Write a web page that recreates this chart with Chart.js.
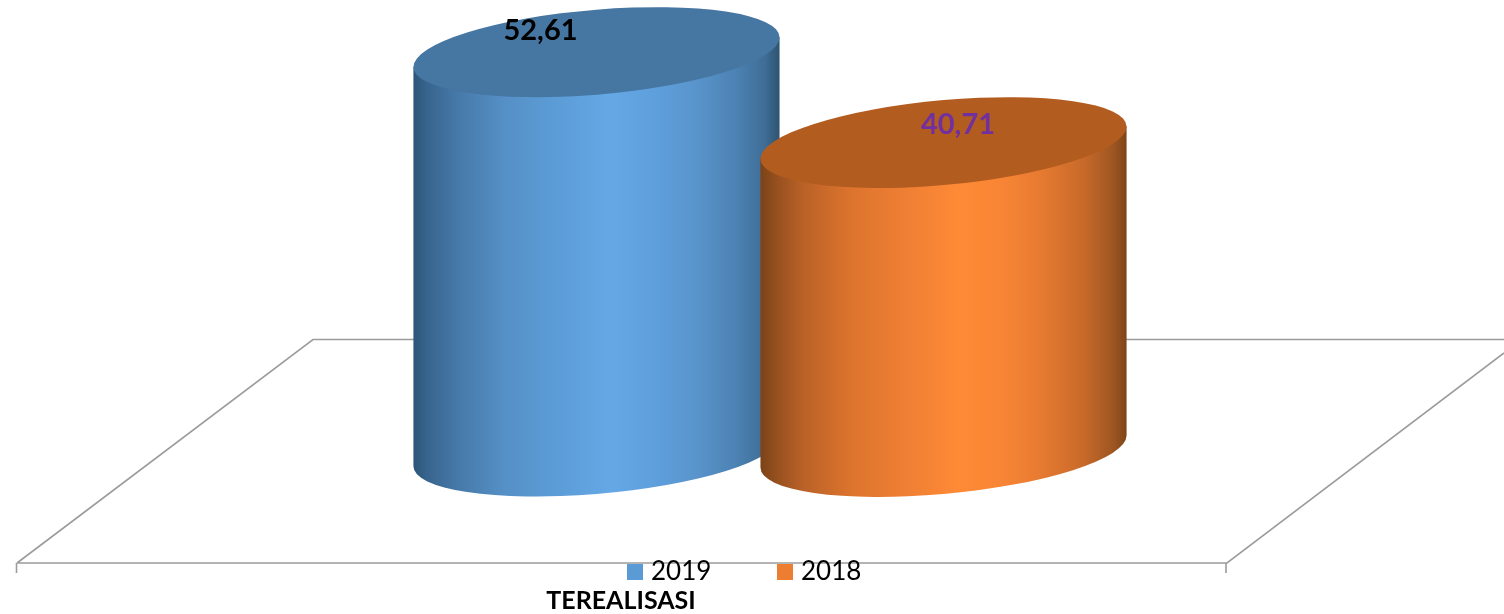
<!DOCTYPE html>
<html><head><meta charset="utf-8">
<style>html,body{margin:0;padding:0;background:#fff}#w{position:relative;width:1504px;height:614px}</style>
<script src="https://cdn.jsdelivr.net/npm/chart.js@4/dist/chart.umd.min.js"></script>
</head><body><div id="w"><canvas id="c" width="1504" height="614"></canvas></div>
<script>
const categories = ['TEREALISASI'];
const seriesNames = ['2019', '2018'];
const values2019 = [52.61];
const values2018 = [40.71];
const valueLabels = ['52,61', '40,71'];
const legendColors = ['#5B9BD5', '#ED7D31'];
const labelColors = ['#000000', '#7030A0'];
const topColors = ['#4676A2', '#B35C20'];
const bodyStops = [
  [[0,'#2C5578'],[0.04,'#38658F'],[0.12,'#4679A8'],[0.25,'#5590C6'],[0.4,'#5C9DD8'],[0.54,'#65A8E6'],[0.66,'#5E9FDC'],[0.76,'#5A96CE'],[0.88,'#4C82B4'],[0.96,'#3F6D96'],[1,'#2E5470']],
  [[0,'#7A4318'],[0.04,'#944F1E'],[0.12,'#BB6228'],[0.25,'#DD742D'],[0.4,'#EF7F34'],[0.54,'#FF8A36'],[0.66,'#F88535'],[0.76,'#E87B31'],[0.88,'#C96A2A'],[0.96,'#A05722'],[1,'#7E4518']]
];
const FONT = 'Lato, Carlito, sans-serif';

const cylinderPlugin = {
  id: 'cylinders',
  beforeDatasetsDraw(chart) {
    const c = chart.ctx;
    c.save();
    c.strokeStyle = '#9C9C9C';
    c.lineWidth = 1.6;
    c.beginPath();
    c.moveTo(17, 563); c.lineTo(313, 339.5); c.lineTo(1504, 339.5);
    c.moveTo(17, 563); c.lineTo(1227, 563); c.lineTo(1504, 353);
    c.moveTo(16.5, 563); c.lineTo(16.5, 573);
    c.moveTo(1226, 563); c.lineTo(1226, 573);
    c.stroke();
    c.restore();
    chart.data.datasets.forEach((ds, i) => {
      const el = chart.getDatasetMeta(i).data[0];
      const a = el.width / 2, cx = el.x, top = el.y, base = el.base;
      const h = base - top, b = 42.5, k = i === 0 ? -0.081 : -0.088;
      c.save();
      c.translate(cx, top);
      c.transform(1, k, 0, 1, 0, 0);
      const gr = c.createLinearGradient(-a, 0, a, 0);
      bodyStops[i].forEach(s => gr.addColorStop(s[0], s[1]));
      c.fillStyle = gr;
      c.beginPath();
      c.moveTo(-a, 0);
      c.lineTo(-a, h);
      c.ellipse(0, h - 0.5, a, b, 0, Math.PI, 0, true);
      c.lineTo(a, 0);
      c.closePath();
      c.fill();
      c.fillStyle = topColors[i];
      c.beginPath();
      c.ellipse(0, 0, a, b, 0, 0, Math.PI * 2);
      c.fill();
      c.restore();
    });
  },
  afterDatasetsDraw(chart) {
    const c = chart.ctx;
    c.save();
    c.textBaseline = 'middle';
    c.textAlign = 'center';
    c.font = 'bold 29px ' + FONT;
    const offs = [[-56, -21], [14.5, -18]];
    chart.data.datasets.forEach((ds, i) => {
      const el = chart.getDatasetMeta(i).data[0];
      c.fillStyle = labelColors[i];
      c.fillText(valueLabels[i], el.x + offs[i][0], el.y + offs[i][1]);
    });
    // legend
    c.textAlign = 'left';
    c.font = '26px ' + FONT;
    const lx = [627, 777];
    chart.data.datasets.forEach((ds, i) => {
      c.fillStyle = legendColors[i];
      c.fillRect(lx[i], 564, 16, 16);
      c.fillStyle = '#000';
      c.fillText(ds.label, lx[i] + 24, 572);
    });
    // category label
    c.textAlign = 'center';
    c.font = 'bold 25px ' + FONT;
    c.fillStyle = '#000';
    c.fillText(chart.data.labels[0], 621, 601);
    c.restore();
  }
};

new Chart(document.getElementById('c'), {
  type: 'bar',
  data: {
    labels: categories,
    datasets: [
      { label: seriesNames[0], data: values2019, backgroundColor: 'rgba(0,0,0,0)' },
      { label: seriesNames[1], data: values2018, backgroundColor: 'rgba(0,0,0,0)' }
    ]
  },
  options: {
    responsive: false,
    animation: false,
    layout: { padding: { left: 36, right: 0, top: 0, bottom: 162 } },
    datasets: { bar: { categoryPercentage: 0.4728, barPercentage: 1.055 } },
    plugins: { legend: { display: false }, tooltip: { enabled: false }, title: { display: false } },
    scales: {
      x: { display: false },
      y: { display: false, min: 0, max: 59.47 }
    }
  },
  plugins: [cylinderPlugin]
});
</script></body></html>
